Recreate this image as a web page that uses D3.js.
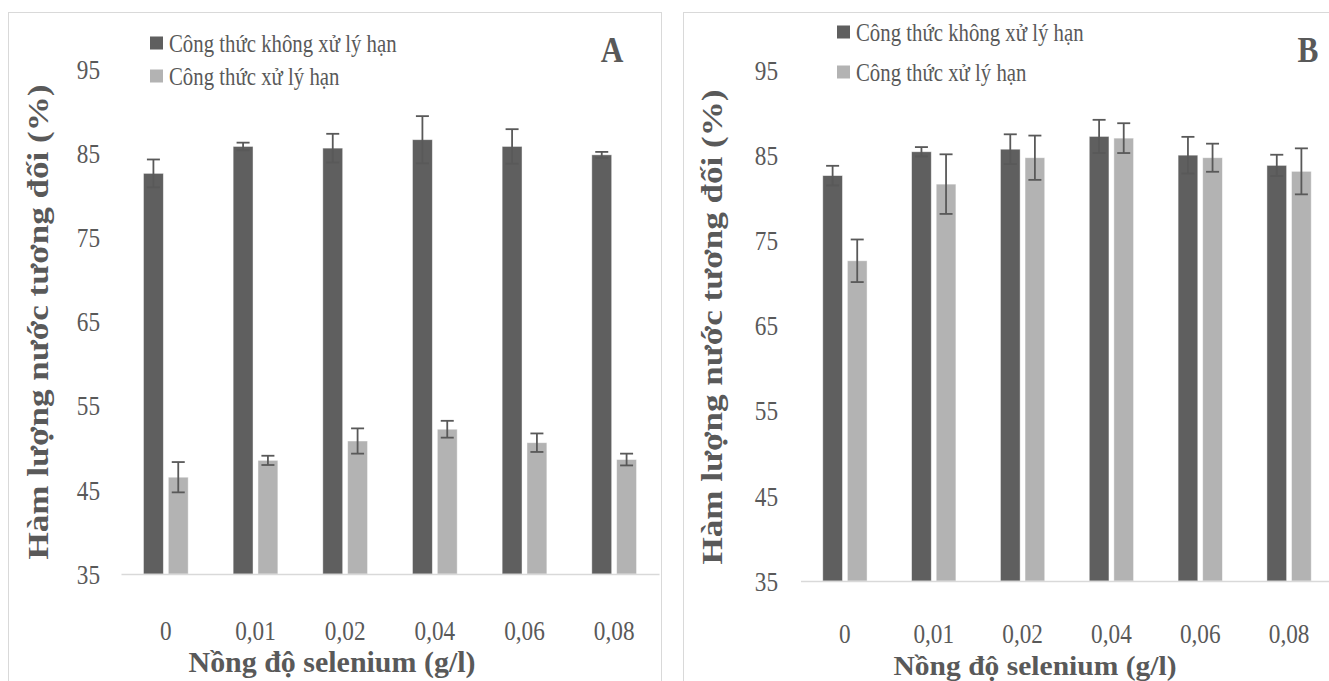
<!DOCTYPE html>
<html>
<head>
<meta charset="utf-8">
<script src="https://cdn.jsdelivr.net/npm/d3@7"></script>
<style>
  html, body { margin: 0; padding: 0; background: #ffffff; }
  svg { display: block; }
  text { font-family: "Liberation Serif", "Times New Roman", "DejaVu Serif", serif; fill: #595959; }
</style>
</head>
<body>
<svg id="chart" width="1329" height="681"></svg>
<script>
// Selenium concentrations (g/l)
const categories = ["0", "0,01", "0,02", "0,04", "0,06", "0,08"];
const seriesNames = ["Công thức không xử lý hạn", "Công thức xử lý hạn"];
const yTicks = [35, 45, 55, 65, 75, 85, 95];

// Panel A – relative water content (%), mean and error
const panelAControl = [82.6, 85.8, 85.6, 86.6, 85.8, 84.8];
const panelAControlErr = [1.65, 0.45, 1.7, 2.8, 2.05, 0.35];
const panelADrought = [46.5, 48.5, 50.8, 52.2, 50.6, 48.6];
const panelADroughtErr = [1.8, 0.55, 1.5, 1.0, 1.1, 0.7];

// Panel B – relative water content (%), mean and error
const panelBControl = [82.6, 85.4, 85.7, 87.2, 85.0, 83.8];
const panelBControlErr = [1.15, 0.55, 1.75, 1.95, 2.15, 1.25];
const panelBDrought = [72.6, 81.6, 84.7, 87.0, 84.7, 83.1];
const panelBDroughtErr = [2.5, 3.5, 2.6, 1.75, 1.65, 2.7];

const colors = ["#5f5f5f", "#b3b3b3"];
const svg = d3.select("#chart");

function drawPanel(p) {
  const g = svg.append("g");

  // frame
  g.append("rect")
    .attr("x", p.frame[0] + 0.5).attr("y", p.frame[1] + 0.5)
    .attr("width", p.frame[2]).attr("height", p.frame[3])
    .attr("fill", "none").attr("stroke", "#d9d9d9").attr("stroke-width", 1);

  const x = d3.scaleBand().domain(categories).range([p.x0, p.x1]).padding(0);
  const y = d3.scaleLinear().domain([35, 95]).range([p.yBottom, p.yTop]);
  const groupW = x.bandwidth() * 0.4986;
  const x1 = d3.scaleBand().domain([0, 1])
    .range([(x.bandwidth() - groupW) / 2, (x.bandwidth() + groupW) / 2])
    .paddingInner(0.2).paddingOuter(0);

  const rows = categories.map((c, i) => ({
    cat: c,
    vals: [
      { s: 0, v: p.control[i], e: p.controlErr[i] },
      { s: 1, v: p.drought[i], e: p.droughtErr[i] }
    ]
  }));

  // y tick labels
  const yAxis = d3.axisLeft(y).tickValues(yTicks).tickSize(0).tickPadding(0);
  const ya = g.append("g").attr("transform", `translate(${p.yLabelX},0)`).call(yAxis);
  ya.select(".domain").remove();
  ya.selectAll("text")
    .attr("class", "sq").attr("data-sq", 0.86)
    .attr("font-size", 27).attr("dy", "0.34em");

  // bars
  const groups = g.selectAll(".grp").data(rows).join("g")
    .attr("transform", d => `translate(${x(d.cat)},0)`);
  groups.selectAll("rect").data(d => d.vals).join("rect")
    .attr("x", d => x1(d.s))
    .attr("width", x1.bandwidth())
    .attr("y", d => y(d.v))
    .attr("height", d => y(35) - y(d.v))
    .attr("fill", d => colors[d.s])
    .attr("stroke", "#ffffff").attr("stroke-opacity", 0.55).attr("stroke-width", 0.8);

  // error bars
  const eb = groups.selectAll(".err").data(d => d.vals).join("g").attr("class", "err")
    .attr("stroke", "#595959").attr("stroke-width", 1.8);
  const cx = d => x1(d.s) + x1.bandwidth() / 2;
  eb.append("line").attr("x1", cx).attr("x2", cx)
    .attr("y1", d => y(d.v + d.e)).attr("y2", d => y(d.v - d.e));
  eb.append("line").attr("x1", d => cx(d) - 6.5).attr("x2", d => cx(d) + 6.5)
    .attr("y1", d => y(d.v + d.e)).attr("y2", d => y(d.v + d.e));
  eb.append("line").attr("x1", d => cx(d) - 6.5).attr("x2", d => cx(d) + 6.5)
    .attr("y1", d => y(d.v - d.e)).attr("y2", d => y(d.v - d.e));

  // x axis
  const xAxis = d3.axisBottom(x).tickSize(0).tickPadding(0);
  const xa = g.append("g").attr("transform", `translate(0,${p.yBottom})`).call(xAxis);
  xa.select(".domain").attr("stroke", "#d9d9d9").attr("stroke-width", 1.5);
  xa.selectAll("text")
    .attr("class", "sq").attr("data-sq", 0.86)
    .attr("font-size", 27)
    .attr("y", p.xLabelDy).attr("dy", "0.34em");

  // axis titles
  g.append("text")
    .attr("x", (p.x0 + p.x1) / 2 + p.xTitleShift).attr("y", p.xTitleY)
    .attr("text-anchor", "middle").attr("font-weight", "bold").attr("font-size", p.xTitleSize)
    .attr("dy", "0.34em")
    .attr("textLength", p.xTitleLen).attr("lengthAdjust", "spacingAndGlyphs")
    .text("Nồng độ selenium (g/l)");
  g.append("text")
    .attr("transform", `translate(${p.yTitleX},${p.yTitleY}) rotate(-90) scale(1,0.87)`)
    .attr("text-anchor", "middle").attr("font-weight", "bold").attr("font-size", 33)
    .attr("dy", "0.34em")
    .attr("textLength", p.yTitleLen).attr("lengthAdjust", "spacingAndGlyphs")
    .text("Hàm lượng nước tương đối (%)");

  // panel letter
  g.append("text")
    .attr("class", "sq").attr("data-sq", 0.87)
    .attr("x", p.letterX).attr("y", p.letterY)
    .attr("text-anchor", "middle").attr("font-weight", "bold").attr("font-size", 36)
    .attr("fill", "#404040").attr("dy", "0.34em")
    .text(p.letter);

  // legend
  const lg = g.selectAll(".leg").data(seriesNames).join("g")
    .attr("transform", (d, i) => `translate(${p.legendX},${p.legendY[i]})`);
  lg.append("rect").attr("x", 0).attr("y", -6.5).attr("width", 13).attr("height", 13)
    .attr("fill", (d, i) => colors[i]);
  lg.append("text").attr("class", "sq").attr("data-sq", 0.8)
    .attr("x", 19).attr("y", 0).attr("dy", "0.34em")
    .attr("font-size", 26).text(d => d);
}

drawPanel({
  frame: [8, 12, 653, 700],
  x0: 121, x1: 659, yBottom: 574, yTop: 69,
  yLabelX: 100, xLabelDy: 57, xTitleY: 662, xTitleShift: -58, xTitleLen: 287, xTitleSize: 30,
  yTitleX: 38, yTitleY: 322, yTitleLen: 475,
  letter: "A", letterX: 612, letterY: 50,
  legendX: 150, legendY: [43, 76],
  control: panelAControl, controlErr: panelAControlErr,
  drought: panelADrought, droughtErr: panelADroughtErr
});

drawPanel({
  frame: [683, 12, 700, 700],
  x0: 800.5, x1: 1333.5, yBottom: 581, yTop: 70,
  yLabelX: 778, xLabelDy: 53, xTitleY: 665.5, xTitleShift: -32, xTitleLen: 283, xTitleSize: 28,
  yTitleX: 712, yTitleY: 327, yTitleLen: 475,
  letter: "B", letterX: 1308, letterY: 50,
  legendX: 837, legendY: [32, 72],
  control: panelBControl, controlErr: panelBControlErr,
  drought: panelBDrought, droughtErr: panelBDroughtErr
});

// condense the horizontal labels to the narrow serif look
svg.selectAll("text.sq").each(function () {
  const k = +this.getAttribute("data-sq");
  const len = this.getComputedTextLength();
  d3.select(this).attr("textLength", len * k).attr("lengthAdjust", "spacingAndGlyphs");
});
</script>
</body>
</html>
